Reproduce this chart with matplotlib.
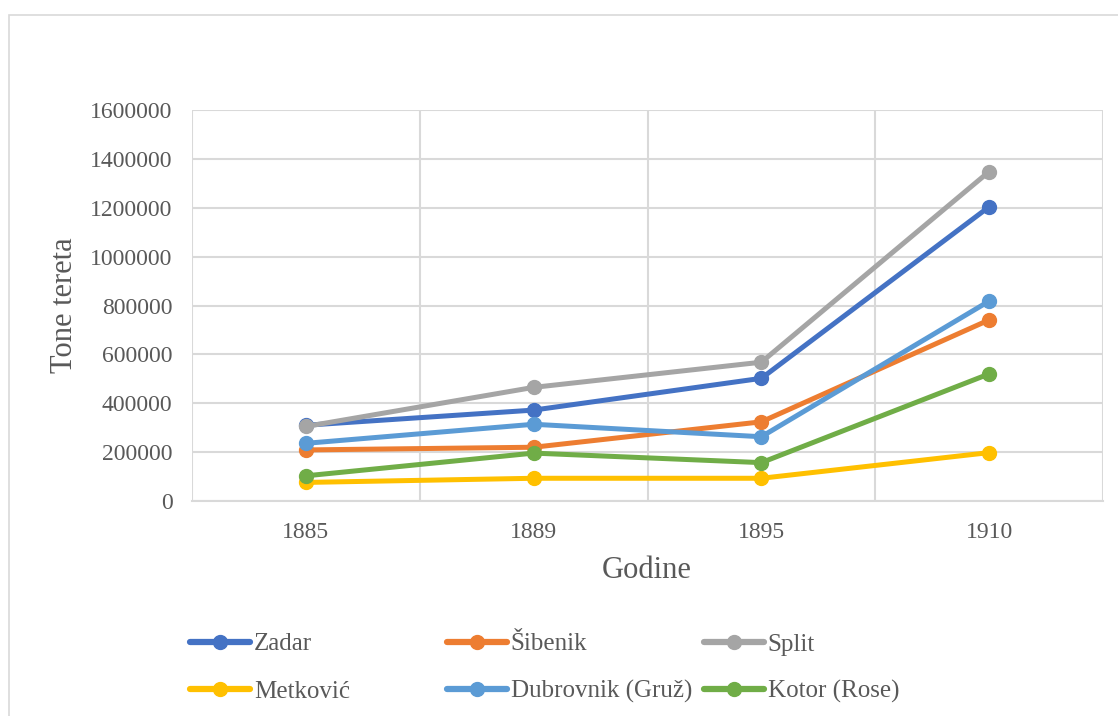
import numpy as np
import matplotlib as mpl
import matplotlib.pyplot as plt
from matplotlib.patches import Rectangle

plt.rcParams.update({
    "font.family": ["Liberation Serif", "DejaVu Serif"],
    "text.color": "#595959",
    "xtick.color": "#595959",
    "ytick.color": "#595959",
})

years = ["1885", "1889", "1895", "1910"]
zadar = [310000, 372000, 502000, 1204000]
sibenik = [209000, 220000, 324000, 741000]
split = [305000, 465000, 568000, 1348000]
metkovic = [76000, 93000, 93000, 198000]
dubrovnik = [236000, 314000, 263000, 818000]
kotor = [103000, 196000, 157000, 520000]

series = [
    ("Zadar", zadar, "#4472C4"),
    ("Šibenik", sibenik, "#ED7D31"),
    ("Split", split, "#A5A5A5"),
    ("Metković", metkovic, "#FFC000"),
    ("Dubrovnik (Gruž)", dubrovnik, "#5B9BD5"),
    ("Kotor (Rose)", kotor, "#70AD47"),
]

GRID = "#D9D9D9"

fig = plt.figure(figsize=(11.18, 7.16), dpi=100)
fig.patches.append(Rectangle((9 / 1118, -0.1), 1.2, 1 - 15 / 716 + 0.1,
                             transform=fig.transFigure, fill=False,
                             edgecolor=GRID, linewidth=1.2))

ax = fig.add_axes([192 / 1118, 1 - 501 / 716, 911 / 1118, 391 / 716])
x = np.arange(len(years))
handles = []
for name, vals, color in series:
    h, = ax.plot(x, vals, color=color, linewidth=3.6, marker="o",
                 markersize=10, solid_capstyle="round", label=name, zorder=3)
    handles.append(h)

ax.set_xlim(-0.5, len(years) - 0.5)
ax.set_ylim(0, 1600000)
ax.set_yticks(np.arange(0, 1600001, 200000))
ax.set_yticklabels([f"{v:d}" for v in range(0, 1600001, 200000)])
ax.set_xticks(x)
ax.set_xticklabels(years)
ax.set_xticks(np.arange(-0.5, len(years), 1.0), minor=True)
ax.tick_params(axis="both", which="both", length=0, labelsize=17)
ax.tick_params(axis="y", pad=14)
ax.tick_params(axis="x", pad=15)
ax.grid(axis="y", which="major", color=GRID, linewidth=1.5, zorder=0)
ax.grid(axis="x", which="minor", color=GRID, linewidth=1.5, zorder=0)
for s in ax.spines.values():
    s.set_visible(False)
ax.spines["bottom"].set_visible(True)
ax.spines["bottom"].set_color(GRID)
ax.spines["bottom"].set_linewidth(1.5)

fig.text(647 / 1118, 1 - 571 / 716, "Godine", ha="center", va="center", fontsize=22)
fig.text(64 / 1118, 1 - 305 / 716, "Tone tereta", ha="center", va="center",
         rotation=90, fontsize=22)

# one legend per column so the columns sit at even spacing
for col, x0 in enumerate([190, 447, 704]):
    hs = [handles[col], handles[col + 3]]
    lg = fig.legend(hs, [h.get_label() for h in hs], loc="upper left",
                    bbox_to_anchor=(x0 / 1118, 1 - 633 / 716), frameon=False,
                    fontsize=18, handlelength=2.4, handletextpad=0.15,
                    labelspacing=0.98, borderpad=0, borderaxespad=0,
                    markerscale=1.0)
    for lh in lg.legend_handles:
        lh.set_linewidth(4.5)

fig.savefig("out.png", dpi=100)
